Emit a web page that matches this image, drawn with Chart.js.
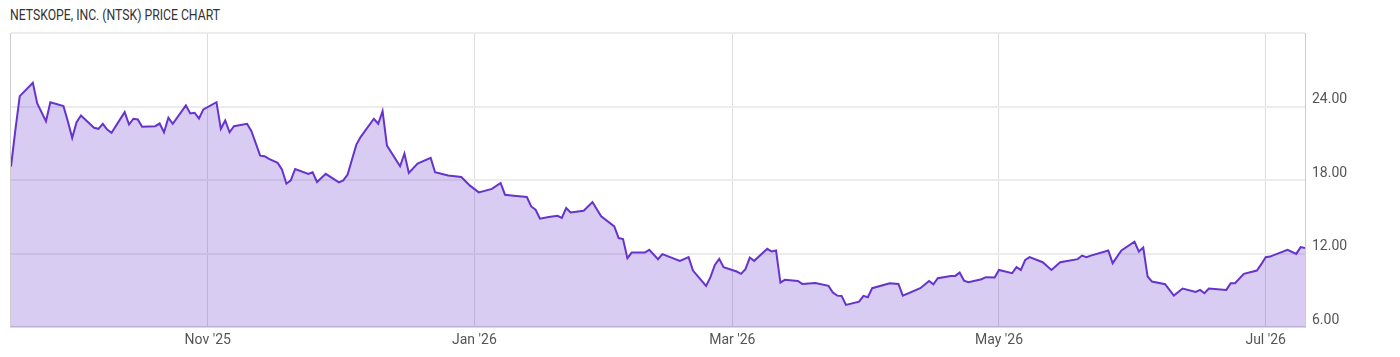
<!DOCTYPE html>
<html>
<head>
<meta charset="utf-8">
<script src="https://cdn.jsdelivr.net/npm/chart.js@4.4.1/dist/chart.umd.min.js"></script>
<style>
  html, body { margin: 0; padding: 0; background: #ffffff; }
  #wrap { position: relative; width: 1400px; height: 357px; overflow: hidden; }
  #title { position: absolute; left: 10px; top: 7px; font-family: Roboto, "Liberation Sans", sans-serif; font-size: 14px; color: #333333; white-space: nowrap; transform: scaleX(0.872); transform-origin: left top; }
  canvas { position: absolute; left: 0; top: 0; }
</style>
</head>
<body>
<div id="wrap">
  <div id="title">NETSKOPE, INC. (NTSK) PRICE CHART</div>
  <canvas id="c" width="1400" height="357"></canvas>
</div>
<script>
const dates = [
 '2025-09-17','2025-09-18','2025-09-19','2025-09-22','2025-09-23','2025-09-25','2025-09-26','2025-09-29','2025-09-30',
 '2025-10-01','2025-10-02','2025-10-03','2025-10-06','2025-10-07','2025-10-08','2025-10-09','2025-10-10','2025-10-13',
 '2025-10-14','2025-10-15','2025-10-16','2025-10-17','2025-10-20','2025-10-21','2025-10-22','2025-10-23','2025-10-24',
 '2025-10-27','2025-10-28','2025-10-29','2025-10-30','2025-10-31','2025-11-03','2025-11-04','2025-11-05','2025-11-06',
 '2025-11-07','2025-11-10','2025-11-11','2025-11-13','2025-11-14','2025-11-15','2025-11-17','2025-11-18','2025-11-19',
 '2025-11-20','2025-11-21','2025-11-24','2025-11-25','2025-11-26','2025-11-28','2025-12-01','2025-12-02','2025-12-03',
 '2025-12-04','2025-12-05','2025-12-06','2025-12-09','2025-12-10','2025-12-11','2025-12-12','2025-12-15','2025-12-16',
 '2025-12-17','2025-12-19','2025-12-22','2025-12-23','2025-12-26','2025-12-29','2025-12-31','2026-01-02','2026-01-05',
 '2026-01-07','2026-01-08','2026-01-10','2026-01-13','2026-01-14','2026-01-15','2026-01-16','2026-01-18','2026-01-20',
 '2026-01-21','2026-01-22','2026-01-23','2026-01-26','2026-01-28','2026-01-30','2026-02-02','2026-02-03','2026-02-04',
 '2026-02-05','2026-02-06','2026-02-09','2026-02-10','2026-02-12','2026-02-13','2026-02-17','2026-02-19','2026-02-20',
 '2026-02-23','2026-02-24','2026-02-25','2026-02-26','2026-02-27','2026-03-02','2026-03-03','2026-03-04','2026-03-05',
 '2026-03-06','2026-03-09','2026-03-10','2026-03-11','2026-03-12','2026-03-13','2026-03-16','2026-03-17','2026-03-20',
 '2026-03-23','2026-03-24','2026-03-25','2026-03-26','2026-03-27','2026-03-30','2026-03-31','2026-04-01','2026-04-02',
 '2026-04-06','2026-04-08','2026-04-09','2026-04-13','2026-04-15','2026-04-16','2026-04-17','2026-04-20','2026-04-21',
 '2026-04-22','2026-04-23','2026-04-24','2026-04-27','2026-04-28','2026-04-30','2026-05-01','2026-05-04','2026-05-05',
 '2026-05-06','2026-05-07','2026-05-08','2026-05-11','2026-05-13','2026-05-15','2026-05-19','2026-05-20','2026-05-21',
 '2026-05-22','2026-05-26','2026-05-27','2026-05-29','2026-06-01','2026-06-02','2026-06-03','2026-06-04','2026-06-05',
 '2026-06-08','2026-06-10','2026-06-12','2026-06-15','2026-06-16','2026-06-17','2026-06-18','2026-06-22','2026-06-23',
 '2026-06-24','2026-06-26','2026-06-29','2026-06-30','2026-07-01','2026-07-02','2026-07-06','2026-07-08','2026-07-09',
 '2026-07-10'
];
const prices = [
 19.10,22.10,24.85,25.94,24.25,22.80,24.35,24.03,22.80,
 21.44,22.72,23.27,22.26,22.18,22.59,22.12,21.85,23.54,
 22.53,23.00,22.94,22.34,22.39,22.61,21.90,23.08,22.59,
 24.09,23.43,23.49,23.02,23.76,24.35,22.18,22.86,21.90,
 22.39,22.59,21.98,19.99,19.94,19.72,19.40,18.85,17.70,
 17.97,18.90,18.50,18.63,17.84,18.50,17.81,17.97,18.44,
 19.67,20.89,21.52,23.00,22.59,23.62,20.81,19.12,20.16,
 18.58,19.34,19.80,18.63,18.36,18.25,17.54,16.99,17.27,
 17.76,16.80,16.72,16.61,15.84,15.57,14.84,14.98,15.08,
 14.90,15.71,15.35,15.49,16.20,15.03,14.21,13.26,13.18,
 11.62,12.08,12.08,12.30,11.54,11.95,11.40,11.70,10.61,
 9.36,10.07,11.07,11.56,10.89,10.53,10.34,10.72,11.67,
 11.40,12.38,12.16,12.25,9.63,9.85,9.76,9.52,9.60,
 9.36,8.81,8.56,8.54,7.80,8.07,8.54,8.43,9.17,
 9.57,9.52,8.56,9.17,9.76,9.49,9.98,10.17,10.17,
 10.44,9.79,9.66,9.90,10.07,10.04,10.66,10.39,10.89,
 10.66,11.48,11.70,11.29,10.66,11.29,11.54,11.83,11.70,
 11.83,12.25,11.21,12.25,12.96,12.16,12.49,10.12,9.71,
 9.49,8.56,9.14,8.86,9.03,8.76,9.14,9.03,9.57,
 9.57,10.34,10.61,11.13,11.70,11.75,12.30,11.97,12.52,
 12.44
];
const monthTicks = ['2025-11-01','2026-01-01','2026-03-01','2026-05-01','2026-07-01'];
const monthLabels = ["Nov '25","Jan '26","Mar '26","May '26","Jul '26"];
const yTicks = [6, 12, 18, 24, 30];
const yLabels = ['6.00', '12.00', '18.00', '24.00', ''];

function toMs(s) {
  const p = s.split('-').map(Number);
  return Date.UTC(p[0], p[1] - 1, p[2]);
}

const points = dates.map((d, i) => ({ x: toMs(d), y: prices[i] }));
const tickFont = { family: 'Roboto, "Liberation Sans", sans-serif', size: 14 };

const leftBorder = {
  id: 'leftBorder',
  afterDatasetsDraw(chart) {
    const a = chart.chartArea, ctx = chart.ctx;
    ctx.save();
    ctx.strokeStyle = '#cccccc';
    ctx.lineWidth = 1;
    ctx.beginPath();
    ctx.moveTo(Math.round(a.left) - 0.5, a.top);
    ctx.lineTo(Math.round(a.left) - 0.5, a.bottom);
    ctx.stroke();
    ctx.restore();
  }
};

new Chart(document.getElementById('c'), {
  type: 'line',
  data: {
    datasets: [{
      data: points,
      borderColor: '#6633cc',
      backgroundColor: 'rgba(102,51,204,0.25)',
      borderWidth: 2,
      fill: 'start',
      pointRadius: 0,
      tension: 0
    }]
  },
  options: {
    responsive: false,
    animation: false,
    layout: { padding: { left: 11, top: 33, right: 0, bottom: 0 } },
    plugins: { legend: { display: false }, tooltip: { enabled: false }, title: { display: false } },
    scales: {
      x: {
        type: 'linear',
        min: toMs(dates[0]),
        max: toMs(dates[dates.length - 1]),
        afterBuildTicks: s => { s.ticks = monthTicks.map(t => ({ value: toMs(t) })); },
        afterFit: s => { s.height = 30; },
        ticks: {
          autoSkip: false, maxRotation: 0, padding: 5, color: '#555555', font: tickFont,
          callback: v => { const i = monthTicks.findIndex(t => toMs(t) === v); return i >= 0 ? monthLabels[i] : ''; }
        },
        grid: { color: '#dddddd', lineWidth: 1, drawTicks: false },
        border: { color: '#dadada', width: 2 }
      },
      y: {
        position: 'right',
        min: 6,
        max: 30,
        afterBuildTicks: s => { s.ticks = yTicks.map(v => ({ value: v })); },
        afterFit: s => { s.width = 95; },
        ticks: {
          padding: 7, labelOffset: -7, color: '#555555', font: tickFont,
          callback: v => { const i = yTicks.indexOf(v); return i >= 0 ? yLabels[i] : ''; }
        },
        grid: { color: '#ececec', lineWidth: 2, drawTicks: false },
        border: { color: '#cccccc', width: 1 }
      }
    }
  },
  plugins: [leftBorder]
});
</script>
</body>
</html>
